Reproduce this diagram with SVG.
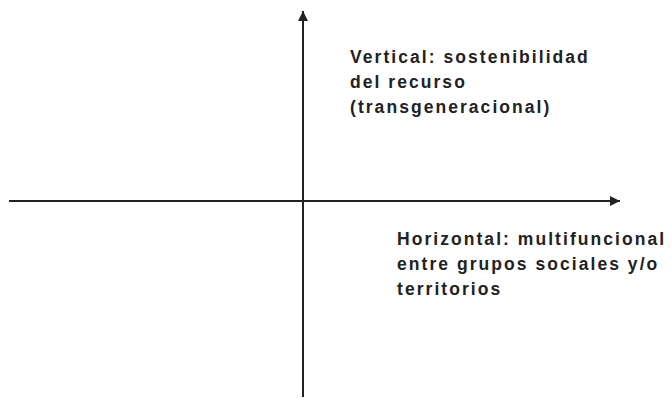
<svg xmlns="http://www.w3.org/2000/svg" width="671" height="398" viewBox="0 0 671 398">
<defs>
<marker id="ah" viewBox="0 0 10 10" refX="10" refY="5" markerWidth="5" markerHeight="5" orient="auto" markerUnits="strokeWidth">
<path d="M0,0 L10,5 L0,10 Z" fill="#222"/>
</marker>
<style>
.ax{stroke:#222;stroke-width:2;fill:none}
.lb{font-family:"Liberation Sans",Arial,sans-serif;font-weight:bold;font-size:17.5px;letter-spacing:2.05px;fill:#222}
</style>
</defs>
<rect width="671" height="398" fill="#fff"/>
<g id="connectors">
<line class="ax" x1="303" y1="397" x2="303" y2="11" marker-end="url(#ah)"/>
<line class="ax" x1="9" y1="201" x2="620" y2="201" marker-end="url(#ah)"/>
</g>
<g id="label-vertical">
<text class="lb" x="350" y="62.7">Vertical: sostenibilidad</text>
<text class="lb" x="350" y="88">del recurso</text>
<text class="lb" x="350" y="113">(transgeneracional)</text>
</g>
<g id="label-horizontal">
<text class="lb" x="397" y="245">Horizontal: multifuncional</text>
<text class="lb" x="397" y="270">entre grupos sociales y/o</text>
<text class="lb" x="397" y="295">territorios</text>
</g>
</svg>
